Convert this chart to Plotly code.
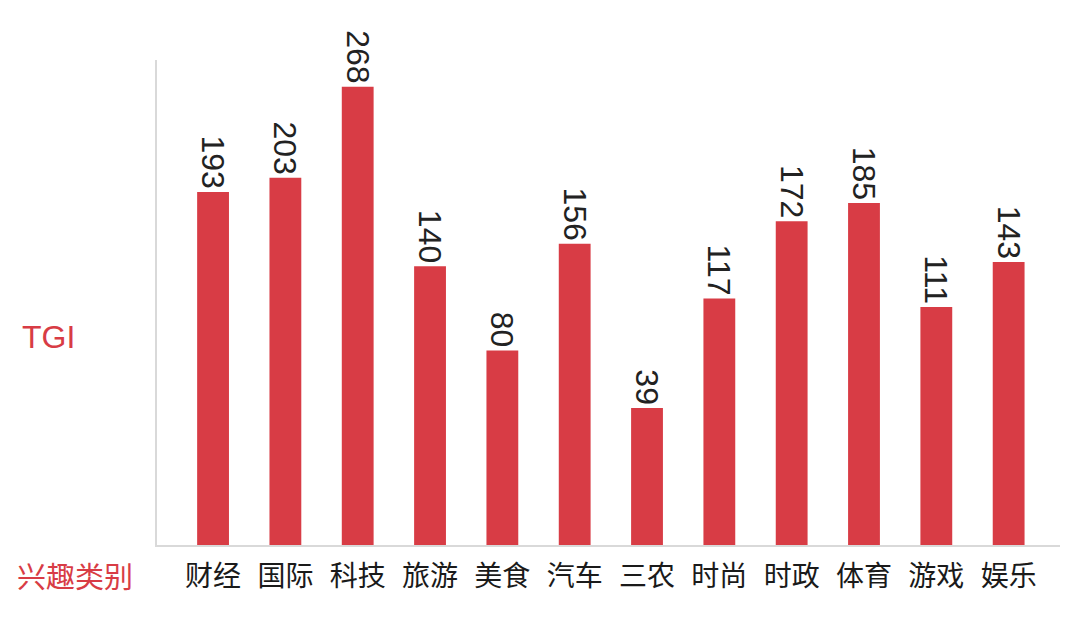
import plotly.graph_objects as go

# 兴趣类别 / TGI 数据
categories = ["财经", "国际", "科技", "旅游", "美食", "汽车", "三农", "时尚", "时政", "体育", "游戏", "娱乐"]
tgi_values = [193, 203, 268, 140, 80, 156, 39, 117, 172, 185, 111, 143]

BAR_RED = "#d83c45"
AXIS_GREY = "#d9d9d9"
NUM_FONT = "Liberation Sans, Arial, Noto Sans CJK SC, sans-serif"
CJK_FONT = "Noto Sans CJK SC, sans-serif"

# the original axis does not start at zero
Y_MIN = -58.7
Y_MAX = 287

fig = go.Figure(
    go.Bar(
        x=categories,
        y=[v - Y_MIN for v in tgi_values],
        base=Y_MIN,
        width=0.44,
        marker=dict(color=BAR_RED, line=dict(width=0)),
        text=[str(v) for v in tgi_values],
        textposition="outside",
        textangle=90,
        constraintext="none",
        textfont=dict(family=NUM_FONT, size=32, color="#222222"),
        cliponaxis=False,
        hoverinfo="x+text",
    )
)

# page body has an 8px margin, so the figure is a bit smaller than the window
fig.update_layout(
    width=1064,
    height=605,
    margin=dict(l=149, r=12, t=52, b=68),
    paper_bgcolor="white",
    plot_bgcolor="white",
    showlegend=False,
    xaxis=dict(
        range=[-0.775, 11.71],
        showline=True,
        linecolor=AXIS_GREY,
        linewidth=1.5,
        showgrid=False,
        ticks="",
        ticklabelstandoff=6,
        tickfont=dict(family=CJK_FONT, size=28, color="#1a1a1a"),
    ),
    yaxis=dict(
        range=[Y_MIN, Y_MAX],
        showline=True,
        linecolor=AXIS_GREY,
        linewidth=1.5,
        showgrid=False,
        zeroline=False,
        showticklabels=False,
        ticks="",
    ),
    annotations=[
        dict(
            text="TGI", xref="paper", yref="paper", x=0, y=0.429, xshift=-109,
            xanchor="center", yanchor="middle", showarrow=False,
            font=dict(family=NUM_FONT, size=32, color=BAR_RED),
        ),
        dict(
            text="兴趣类别", xref="paper", yref="paper", x=0, y=0, xshift=-82, yshift=-30,
            xanchor="center", yanchor="middle", showarrow=False,
            font=dict(family=CJK_FONT, size=29, color=BAR_RED),
        ),
    ],
)

fig.write_html("out.html")
